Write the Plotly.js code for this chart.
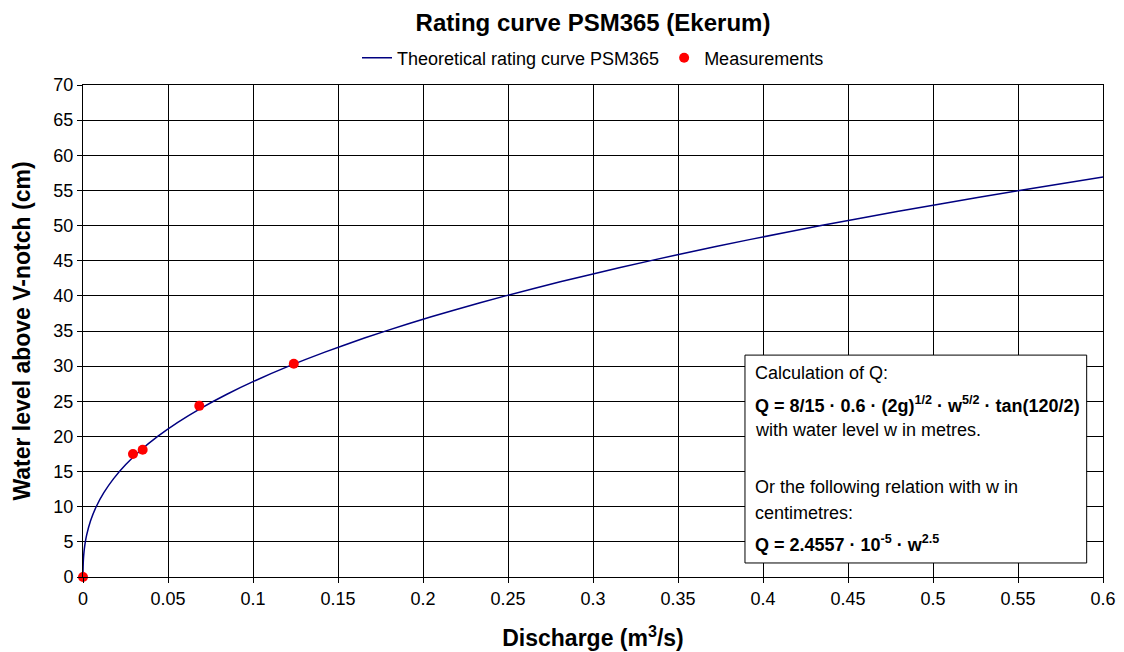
<!DOCTYPE html>
<html>
<head>
<meta charset="utf-8">
<script src="https://cdn.plot.ly/plotly-3.0.1.min.js"></script>
<style>
html,body{margin:0;padding:0;background:#fff;}
#chart{width:1124px;height:652px;}
</style>
</head>
<body>
<div id="chart"></div>
<script>
// Theoretical rating curve: water level (cm) and discharge (m3/s)
const curveLevel = [0, 1, 2, 3, 4, 5, 6, 8, 10, 12, 14, 16, 18, 20, 22, 24, 26, 28, 30, 32, 34, 36, 38, 40, 42, 44, 46, 48, 50, 52, 54, 56, 57];
const curveDischarge = [0, 0.0000246, 0.000139, 0.000383, 0.000786, 0.001373, 0.002165, 0.004445, 0.007766, 0.01225, 0.01801, 0.02515, 0.03376, 0.04393, 0.05575, 0.06930, 0.08465, 0.10188, 0.12105, 0.14225, 0.16553, 0.19096, 0.21860, 0.24850, 0.28073, 0.31536, 0.35242, 0.39200, 0.43411, 0.47884, 0.52622, 0.57630, 0.60237];

// Measurements
const measDischarge = [0, 0.0294, 0.0351, 0.0684, 0.1240];
const measLevel = [0, 17.5, 18.1, 24.35, 30.35];

const seriesNames = ["Theoretical rating curve PSM365", "Measurements"];

const boxLines = [
  "Calculation of Q:",
  "<b>Q = 8/15 · 0.6 · (2g)<sup>1/2</sup> · w<sup>5/2</sup> · tan(120/2)</b>",
  "with water level w in metres.",
  "Or the following relation with w in",
  "centimetres:",
  "<b>Q = 2.4557 · 10<sup>-5</sup> · w<sup>2.5</sup></b>"
];
const boxLineY = [0.4146, 0.3496, 0.2988, 0.1829, 0.1301, 0.0691];

const FONT = "'Liberation Sans', Arial, sans-serif";

const traces = [
  {
    x: curveDischarge, y: curveLevel, name: seriesNames[0],
    type: "scatter", mode: "lines",
    line: {color: "#000080", width: 1.5, shape: "spline", smoothing: 0.6}
  },
  {
    x: measDischarge, y: measLevel, name: seriesNames[1],
    type: "scatter", mode: "markers", cliponaxis: false,
    marker: {color: "#ff0000", size: 10}
  }
];

const annotations = boxLines.map((t, i) => ({
  xref: "paper", yref: "paper", x: 0.6569, y: boxLineY[i],
  xanchor: "left", yanchor: "middle", text: t, showarrow: false,
  align: "left", font: {family: FONT, size: 18, color: "#000"}
}));

const layout = {
  width: 1124, height: 652,
  margin: {l: 83, r: 21, t: 85, b: 75, pad: 0},
  paper_bgcolor: "#fff", plot_bgcolor: "#fff",
  font: {family: FONT, color: "#000", size: 18},
  title: {
    text: "<b>Rating curve PSM365 (Ekerum)</b>",
    font: {family: FONT, size: 24, color: "#000"},
    x: 0.5, xref: "paper", xanchor: "center",
    y: 0.9647, yref: "container", yanchor: "middle"
  },
  showlegend: true,
  legend: {
    orientation: "h", x: 0.5, xanchor: "center", y: 1.0549, yanchor: "middle",
    font: {family: FONT, size: 18, color: "#000"}, bgcolor: "rgba(0,0,0,0)",
    itemwidth: 30
  },
  xaxis: {
    range: [0, 0.6], dtick: 0.05, tick0: 0, autorange: false,
    showgrid: true, gridcolor: "#000", gridwidth: 1,
    showline: true, linecolor: "#000", linewidth: 1, mirror: true,
    zeroline: false,
    ticks: "outside", ticklen: 5, tickcolor: "#000",
    tickfont: {family: FONT, size: 18, color: "#000"},
    title: {text: "<b>Discharge (m<sup>3</sup>/s)</b>", font: {family: FONT, size: 23, color: "#000"}, standoff: 22},
    automargin: false
  },
  yaxis: {
    range: [0, 70], dtick: 5, tick0: 0, autorange: false,
    showgrid: true, gridcolor: "#000", gridwidth: 1,
    showline: true, linecolor: "#000", linewidth: 1, mirror: true,
    zeroline: false,
    ticks: "outside", ticklen: 5, tickcolor: "#000",
    tickfont: {family: FONT, size: 18, color: "#000"},
    title: {text: "<b>Water level above V-notch (cm)</b>", font: {family: FONT, size: 23, color: "#000"}, standoff: 16},
    automargin: false
  },
  shapes: [{
    type: "rect", xref: "paper", yref: "paper",
    x0: 0.649, x1: 0.984, y0: 0.0285, y1: 0.451,
    line: {color: "#000", width: 1}, fillcolor: "#fff", layer: "above"
  }],
  annotations: annotations
};

Plotly.newPlot("chart", traces, layout, {staticPlot: true, displayModeBar: false});
</script>
</body>
</html>
